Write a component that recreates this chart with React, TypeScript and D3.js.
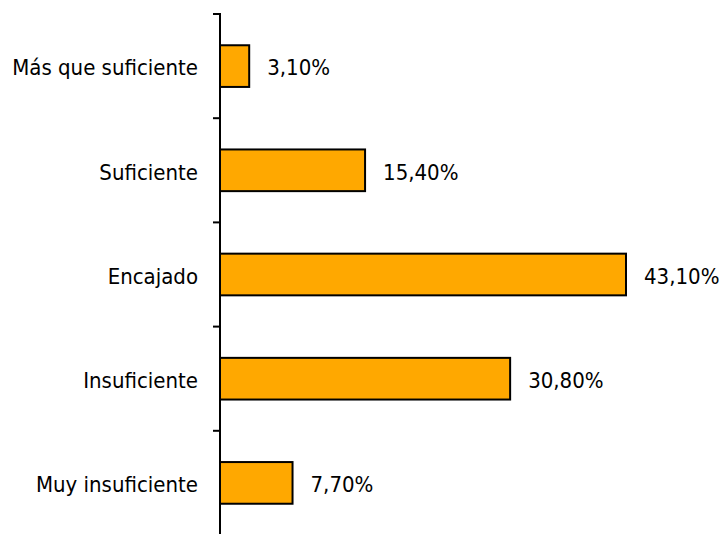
import { useEffect, useRef } from 'react';
import * as d3 from 'd3';

const categories = ['Más que suficiente', 'Suficiente', 'Encajado', 'Insuficiente', 'Muy insuficiente'];
const values = [3.1, 15.4, 43.1, 30.8, 7.7];
const valueLabels = ['3,10%', '15,40%', '43,10%', '30,80%', '7,70%'];

const width = 725;
const height = 534;

export default function App() {
	const svgRef = useRef<SVGSVGElement>(null);

	useEffect(() => {
		if (!svgRef.current) return;
		const svg = d3.select(svgRef.current);
		svg.selectAll('*').remove();

		const axisX = 220;
		const x = d3.scaleLinear().domain([0, 50]).range([axisX, axisX + 471]);
		const y = d3
			.scaleBand<string>()
			.domain(categories)
			.range([14, 535])
			.paddingInner(0.6)
			.paddingOuter(0.3);

		const step = y.step();
		const font = '"DejaVu Sans Condensed", "DejaVu Sans", sans-serif';
		const fontSize = 22;

		// Bars
		svg
			.selectAll('.bar')
			.data(values)
			.enter()
			.append('rect')
			.attr('class', 'bar')
			.attr('x', x(0))
			.attr('y', (_, i) => y(categories[i])!)
			.attr('width', (d) => x(d) - x(0))
			.attr('height', y.bandwidth())
			.attr('fill', '#FFA800')
			.attr('stroke', '#000')
			.attr('stroke-width', 2);

		// Axis line and ticks
		svg
			.append('line')
			.attr('x1', axisX)
			.attr('x2', axisX)
			.attr('y1', 13)
			.attr('y2', 535)
			.attr('stroke', '#000')
			.attr('stroke-width', 2);

		d3.range(categories.length + 1).forEach((i) => {
			const ty = 14 + i * step;
			svg
				.append('line')
				.attr('x1', axisX - 7)
				.attr('x2', axisX)
				.attr('y1', ty)
				.attr('y2', ty)
				.attr('stroke', '#000')
				.attr('stroke-width', 2);
		});

		// Category labels
		svg
			.selectAll('.cat')
			.data(categories)
			.enter()
			.append('text')
			.attr('x', 198)
			.attr('y', (d) => y(d)! + y.bandwidth() / 2)
			.attr('dy', '0.42em')
			.attr('text-anchor', 'end')
			.attr('font-family', font)
			.attr('font-size', fontSize)
			.attr('fill', '#000')
			.text((d) => d);

		// Value labels
		svg
			.selectAll('.val')
			.data(values)
			.enter()
			.append('text')
			.attr('x', (d) => x(d) + 18)
			.attr('y', (_, i) => y(categories[i])! + y.bandwidth() / 2)
			.attr('dy', '0.42em')
			.attr('font-family', font)
			.attr('font-size', fontSize)
			.attr('fill', '#000')
			.text((_, i) => valueLabels[i]);
	}, []);

	return (
		<div style={{ position: 'absolute', left: 0, top: 0 }}>
			<svg ref={svgRef} width={width} height={height} style={{ display: 'block', background: '#fff' }}></svg>
		</div>
	);
}
